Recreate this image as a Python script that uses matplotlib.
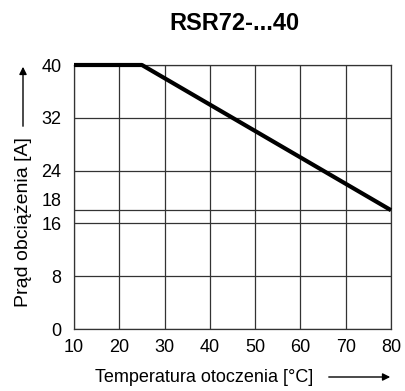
import matplotlib
matplotlib.use("Agg")
import matplotlib.pyplot as plt
from matplotlib.patches import FancyArrowPatch

temps = [10, 25, 80]
current = [40, 40, 18]
xticks = [10, 20, 30, 40, 50, 60, 70, 80]
yticks = [0, 8, 16, 18, 24, 32, 40]

plt.rcParams['font.family'] = ['Liberation Sans', 'DejaVu Sans']

fig = plt.figure(figsize=(4.06, 3.91), dpi=100)
ax = fig.add_axes([74/406, 62/391, 317/406, 264/391])
ax.plot(temps, current, color='black', lw=3, solid_capstyle='butt', zorder=3, clip_on=False)
ax.set_xlim(10, 80)
ax.set_ylim(0, 40)
ax.set_xticks(xticks)
ax.set_yticks(yticks)
ax.grid(True, color='#333333', lw=0.9)
ax.tick_params(length=0, labelsize=13)
ax.tick_params(axis='y', pad=9)
ax.tick_params(axis='x', pad=7)
for s in ax.spines.values():
    s.set_color('#333333')
    s.set_linewidth(0.9)
for lab, v in zip(ax.get_yticklabels(), yticks):
    if v == 18:
        lab.set_va('bottom')

fig.text(234/406, 1 - 24/391, 'RSR72-...40', fontsize=17, fontweight='bold', ha='center', va='center')

fig.text(24/406, 1 - 222/391, 'Prąd obciążenia [A]', rotation=90, ha='center', va='center', fontsize=14)
fig.text(204/406, 1 - 377/391, 'Temperatura otoczenia [°C]', ha='center', va='center', fontsize=13)
fig.add_artist(FancyArrowPatch((23/406, 1 - 129/391), (23/406, 1 - 64/391),
    transform=fig.transFigure, arrowstyle='-|>', mutation_scale=11, color='black', lw=1))
fig.add_artist(FancyArrowPatch((326/406, 1 - 377/391), (393/406, 1 - 377/391),
    transform=fig.transFigure, arrowstyle='-|>', mutation_scale=11, color='black', lw=1))

fig.savefig('out.png', dpi=100)
